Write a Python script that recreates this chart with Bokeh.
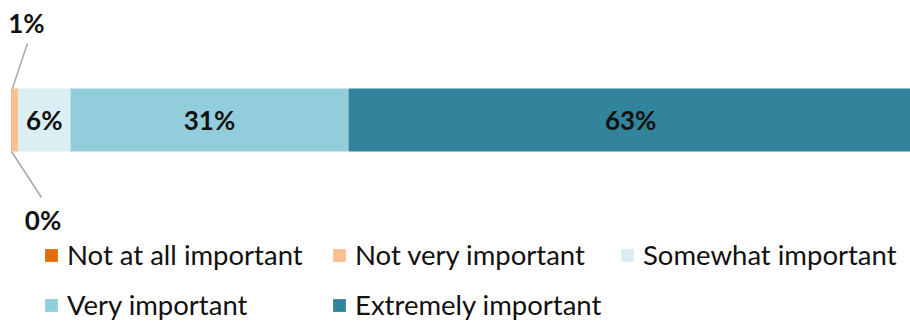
from bokeh.plotting import figure
from bokeh.models import Range1d, ColumnDataSource, Legend, LegendItem
from bokeh.core.properties import value
from bokeh.embed import file_html
from bokeh.resources import INLINE

# ---- data ----
categories = ["Not at all important", "Not very important", "Somewhat important",
              "Very important", "Extremely important"]
shares = [0.1, 0.64, 5.83, 31.0, 62.9]
colors = ["#E46C0A", "#FAC090", "#DAEEF3", "#92CDDC", "#31849B"]

# ---- layout constants (styles) ----
W, H = 910, 322
PX = 8.97                      # pixels per percentage point
X0 = -11 / PX
BAR_Y, BAR_H = 119.5, 63
FONT = "Lato"

lefts, rights = [], []
acc = 0.0
for s in shares:
    lefts.append(acc)
    acc += s
    rights.append(acc)
labels = [f"{round(s)}%" for s in shares]

p = figure(width=W, height=H, x_range=Range1d(X0, X0 + W / PX), y_range=Range1d(H, 0),
           toolbar_location=None, output_backend="svg", min_border=0,
           x_axis_location=None, y_axis_location=None)
p.grid.visible = False
p.outline_line_color = None
p.background_fill_color = "white"
p.border_fill_color = "white"

src = ColumnDataSource(dict(cat=categories, left=lefts, right=rights, color=colors,
                            y=[BAR_Y] * len(shares)))
bars = p.hbar(y="y", left="left", right="right", height=BAR_H, fill_color="color",
              line_color=None, source=src)

# labels inside the bar for large segments
inside = [i for i, s in enumerate(shares) if s >= 3]
p.text(x=[(lefts[i] + rights[i]) / 2 for i in inside], y=[BAR_Y - 0.5] * len(inside),
       text=[labels[i] for i in inside], text_font=value(FONT), text_font_style="bold",
       text_font_size="26px", text_align="center", text_baseline="alphabetic",
       text_color="#111111")

bar_top = BAR_Y - BAR_H / 2
bar_bot = BAR_Y + BAR_H / 2

# small segment callouts: "Not very important" above, "Not at all important" below
p.segment(x0=[lefts[1]], y0=[bar_top], x1=[lefts[1] + 15 / PX], y1=[bar_top - 45],
          line_color="#A6A6A6", line_width=1.5)
p.text(x=[lefts[1]], y=[bar_top - 66], text=[labels[1]], x_offset=14,
       text_font=value(FONT), text_font_style="bold", text_font_size="26px",
       text_align="center", text_baseline="alphabetic", text_color="#111111")

p.segment(x0=[lefts[0]], y0=[bar_bot], x1=[lefts[0] + 30 / PX], y1=[bar_bot + 46],
          line_color="#A6A6A6", line_width=1.5)
p.text(x=[lefts[0]], y=[bar_bot + 68], text=[labels[0]], x_offset=31.5,
       text_font=value(FONT), text_font_style="bold", text_font_size="26px",
       text_align="center", text_baseline="alphabetic", text_color="#111111")

items = [LegendItem(label=c, renderers=[bars], index=i) for i, c in enumerate(categories)]

def make_legend(its, loc):
    return Legend(items=its, location=loc, orientation="horizontal",
                  border_line_color=None, background_fill_alpha=0, padding=0, margin=0,
                  spacing=0, label_standoff=8, glyph_width=16, glyph_height=16,
                  label_width=264, label_text_font=FONT, label_text_font_size="27.5px",
                  label_text_color="#111111")

p.add_layout(make_legend(items[:3], (43, 51)))
p.add_layout(make_legend(items[3:], (43, 1)))

open("out.html", "w").write(file_html(p, INLINE))
